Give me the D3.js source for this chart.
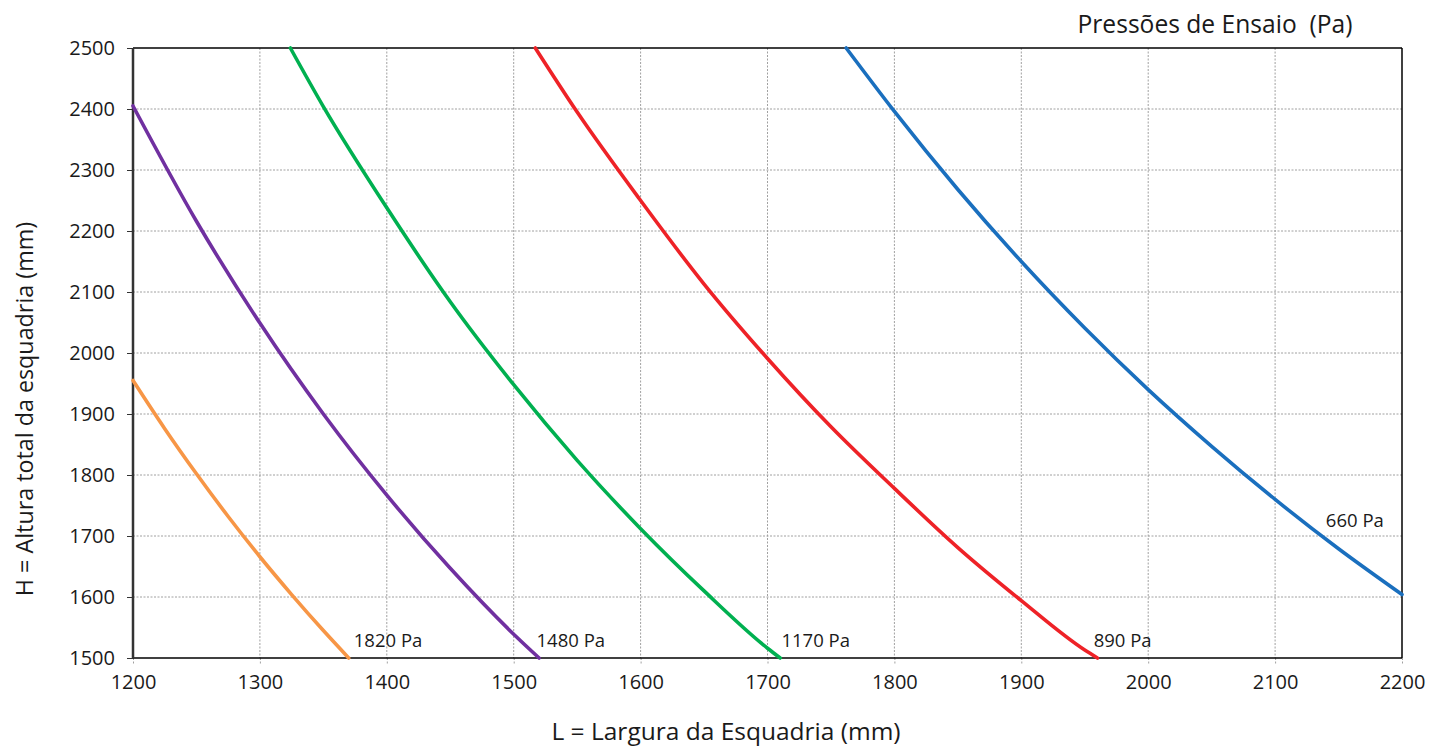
<!DOCTYPE html>
<html>
<head>
<meta charset="utf-8">
<script src="https://cdn.jsdelivr.net/npm/d3@7"></script>
<style>
  body { margin: 0; background: #fff; }
  svg { display: block; font-family: "Open Sans", "Noto Sans", sans-serif; }
</style>
</head>
<body>
<svg id="chart" width="1430" height="749"></svg>
<script>
// ---- Data ----
const xTicks = [1200, 1300, 1400, 1500, 1600, 1700, 1800, 1900, 2000, 2100, 2200];
const yTicks = [1500, 1600, 1700, 1800, 1900, 2000, 2100, 2200, 2300, 2400, 2500];

const pressures = ["1820 Pa", "1480 Pa", "1170 Pa", "890 Pa", "660 Pa"];
const colors = ["#F79646", "#7030A0", "#00B050", "#EE2227", "#1A6FBE"];

const curve1820 = [[1200,1955],[1225,1876],[1250,1802],[1275,1732],[1300,1666],[1325,1604],[1350,1545],[1370,1500]];
const curve1480 = [[1200,2405],[1250,2216],[1300,2049],[1350,1900],[1400,1767],[1450,1647],[1500,1539],[1520,1500]];
const curve1170 = [[1324,2500],[1350,2404],[1400,2238],[1450,2084],[1500,1948],[1550,1824],[1600,1712],[1650,1610],[1700,1516],[1710,1500]];
const curve890  = [[1517,2500],[1550,2395],[1600,2250],[1650,2113],[1700,1991],[1750,1879],[1800,1778],[1850,1681],[1900,1594],[1950,1513],[1960,1500]];
const curve660  = [[1762,2500],[1800,2396],[1850,2268],[1900,2150],[1950,2041],[2000,1940],[2050,1847],[2100,1760],[2150,1679],[2200,1604]];
const curves = [curve1820, curve1480, curve1170, curve890, curve660];

// label anchor points in data units
const labelL = [1374, 1518, 1711, 1957, 2140];
const labelH = [1518, 1518, 1518, 1518, 1715];

// ---- Layout ----
const svg = d3.select("#chart");
const m = { left: 133, right: 1402, top: 48, bottom: 658 };

const x = d3.scaleLinear().domain([1200, 2200]).range([m.left, m.right]);
const y = d3.scaleLinear().domain([1500, 2500]).range([m.bottom, m.top]);

// grid
const grid = svg.append("g");
grid.selectAll("line.v").data(xTicks.slice(1, -1)).join("line")
  .attr("x1", d => x(d)).attr("x2", d => x(d))
  .attr("y1", m.top).attr("y2", m.bottom)
  .attr("stroke", "#a0a0a0").attr("stroke-width", 1).attr("stroke-dasharray", "2,1.5");
grid.selectAll("line.h").data(yTicks.slice(1, -1)).join("line")
  .attr("x1", m.left).attr("x2", m.right)
  .attr("y1", d => y(d)).attr("y2", d => y(d))
  .attr("stroke", "#a0a0a0").attr("stroke-width", 1).attr("stroke-dasharray", "2,1.5");

// axes
const xAxis = svg.append("g").attr("transform", `translate(0,${m.bottom})`)
  .call(d3.axisBottom(x).tickValues(xTicks).tickFormat(d3.format("d")).tickSize(7).tickPadding(10));
xAxis.select(".domain").remove();
xAxis.selectAll(".tick line").attr("stroke", "#a0a0a0").attr("stroke-dasharray", "2,1.5");
xAxis.selectAll(".tick text").attr("font-size", 20).attr("fill", "#1a1a1a")
  .attr("font-family", "'Open Sans', sans-serif");

const yAxis = svg.append("g").attr("transform", `translate(${m.left},0)`)
  .call(d3.axisLeft(y).tickValues(yTicks).tickFormat(d3.format("d")).tickSize(6).tickPadding(12));
yAxis.select(".domain").remove();
yAxis.selectAll(".tick line").attr("stroke", "#333");
yAxis.selectAll(".tick text").attr("font-size", 20).attr("fill", "#1a1a1a")
  .attr("font-family", "'Open Sans', sans-serif");

// frame
svg.append("line").attr("x1", m.left).attr("x2", m.right).attr("y1", m.top).attr("y2", m.top)
  .attr("stroke", "#000").attr("stroke-width", 1.5);
svg.append("line").attr("x1", m.right).attr("x2", m.right).attr("y1", m.top).attr("y2", m.bottom)
  .attr("stroke", "#000").attr("stroke-width", 1.5);
svg.append("line").attr("x1", m.left).attr("x2", m.right).attr("y1", m.bottom).attr("y2", m.bottom)
  .attr("stroke", "#000").attr("stroke-width", 1.5);
svg.append("line").attr("x1", m.left).attr("x2", m.left).attr("y1", m.top).attr("y2", m.bottom)
  .attr("stroke", "#333").attr("stroke-width", 2.5);

// curves
const line = d3.line().x(d => x(d[0])).y(d => y(d[1])).curve(d3.curveMonotoneX);
svg.append("g").selectAll("path").data(curves).join("path")
  .attr("d", line)
  .attr("fill", "none")
  .attr("stroke", (d, i) => colors[i])
  .attr("stroke-width", 3.6)
  .attr("stroke-linecap", "round");

// curve labels
svg.append("g").selectAll("text").data(pressures).join("text")
  .attr("x", (d, i) => x(labelL[i]))
  .attr("y", (d, i) => y(labelH[i]))
  .attr("font-size", 18.5)
  .attr("fill", "#1a1a1a")
  .text(d => d);

// titles
svg.append("text").attr("x", 1215).attr("y", 33).attr("text-anchor", "middle")
  .attr("font-size", 24.6).attr("fill", "#1a1a1a")
  .style("white-space", "pre").text("Pressões de Ensaio  (Pa)");

svg.append("text").attr("x", 726).attr("y", 740).attr("text-anchor", "middle")
  .attr("font-size", 24.5).attr("fill", "#1a1a1a").text("L = Largura da Esquadria (mm)");

svg.append("text").attr("transform", "translate(33,409) rotate(-90)").attr("text-anchor", "middle")
  .attr("font-size", 23.3).attr("fill", "#1a1a1a").text("H = Altura total da esquadria (mm)");
</script>
</body>
</html>
